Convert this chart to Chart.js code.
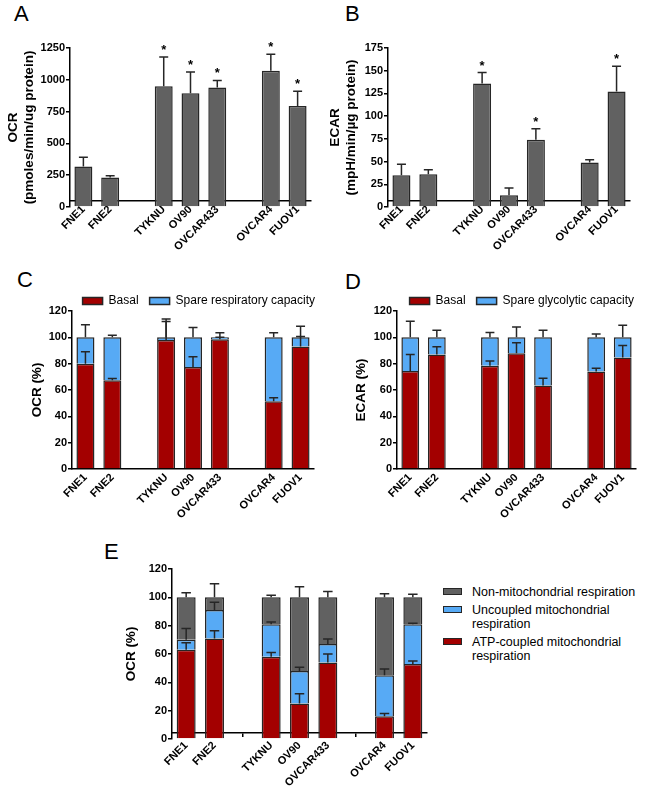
<!DOCTYPE html>
<html>
<head>
<meta charset="utf-8">
<script src="https://cdn.jsdelivr.net/npm/chart.js@4.4.1/dist/chart.umd.min.js"></script>
<style>
  body { margin: 0; background: #fff; }
  #fig { position: relative; width: 650px; height: 809px; font-family: "Liberation Sans", Arial, sans-serif; color: #000; }
  #fig canvas { position: absolute; }
  .tag { position: absolute; font-size: 22px; line-height: 22px; }
  .lrow { position: absolute; left: 443px; width: 200px; font-size: 12.5px; line-height: 14px; }
  .lrow i { position: absolute; left: 0; top: 3px; width: 17px; height: 5px; border: 1.5px solid #262626; }
  .lrow span { position: absolute; left: 29px; width: 170px; }
</style>
</head>
<body>
<div id="fig">
  <div class="tag" style="left:14px;top:3px">A</div>
  <div class="tag" style="left:345px;top:3px">B</div>
  <div class="tag" style="left:17px;top:269px">C</div>
  <div class="tag" style="left:345px;top:271px">D</div>
  <div class="tag" style="left:104px;top:541px">E</div>
  <canvas id="chartA" width="320" height="270" style="left:0;top:0"></canvas>
  <canvas id="chartB" width="330" height="270" style="left:320px;top:0"></canvas>
  <canvas id="chartC" width="320" height="270" style="left:0;top:270px"></canvas>
  <canvas id="chartD" width="330" height="270" style="left:320px;top:270px"></canvas>
  <canvas id="chartE" width="440" height="269" style="left:0;top:540px"></canvas>
  <div id="legendE"></div>
</div>
<script>
// cell lines, empty strings are the gaps between groups
const cells = ['FNE1', 'FNE2', '', 'TYKNU', 'OV90', 'OVCAR433', '', 'OVCAR4', 'FUOV1'];

// A - OCR
const ocrRaw    = [318, 232, null, 950, 895, 940, null, 1072, 795];
const ocrRawErr = [74, 13, null, 230, 167, 55, null, 128, 115];
const ocrRawSig = [0, 0, 0, 1, 1, 1, 0, 1, 1];
// B - ECAR
const ecarRaw    = [35, 36, null, 136, 13, 74, null, 49, 127];
const ecarRawErr = [12, 5, null, 12, 8, 12, null, 3, 28];
const ecarRawSig = [0, 0, 0, 1, 0, 1, 0, 0, 1];
// C - OCR %
const ocrBasal    = [80, 67.5, null, 98, 77.5, 98.5, null, 51.5, 93];
const ocrBasalErr = [9, 1.3, null, 14, 7.7, 1.5, null, 2.7, 7.7];
const ocrSpare    = [20, 32.5, null, 2, 22.5, 1.5, null, 48.5, 7];
const ocrSpareErr = [9.5, 1.5, null, 14, 7.4, 3.4, null, 3.4, 8.4];
// D - ECAR %
const ecarBasal    = [74.5, 87, null, 78.5, 88, 63.5, null, 74, 84.7];
const ecarBasalErr = [12.5, 5.8, null, 3.6, 7.8, 5.4, null, 2.5, 9.1];
const ecarSpare    = [25.5, 13, null, 21.5, 12, 36.5, null, 26, 15.3];
const ecarSpareErr = [12.2, 5.4, null, 3.6, 7.9, 5.4, null, 2.6, 9.2];
// E - OCR % breakdown
const atpCoupled   = [63, 71, null, 58, 25, 54, null, 16, 53];
const atpErr       = [5, 5.5, null, 3, 7, 6, null, 2, 2];
const uncoupled    = [7, 20, null, 23, 23, 13, null, 29, 28];
const uncoupledErr = [8, 5.5, null, 1.6, 2.6, 3.6, null, 4.4, 0.7];
const nonMito      = [30, 9, null, 19, 52, 33, null, 55, 19];
const nonMitoErr   = [3.3, 9.6, null, 1.4, 7.5, 4.2, null, 2.6, 2.1];

const FONT = '"Liberation Sans", Arial, sans-serif';
const RED = '#a30000', BLUE = '#57aaf5', GRAY = '#616161', EDGE = '#262626';

Chart.defaults.font.family = FONT;
Chart.defaults.color = '#000';

// mean + error bar on top of every bar segment, asterisk when flagged
const errorBars = {
  id: 'errorBars',
  afterDatasetsDraw(chart) {
    const ctx = chart.ctx, y = chart.scales.y;
    const sums = [];
    chart.data.datasets.forEach((ds, d) => {
      const meta = chart.getDatasetMeta(d);
      ds.data.forEach((v, i) => {
        if (v == null) return;
        sums[i] = (sums[i] || 0) + v;
        const bar = meta.data[i];
        const top = y.getPixelForValue(sums[i] + ds.err[i]);
        const half = bar.width * 0.25;
        ctx.save();
        ctx.strokeStyle = EDGE;
        ctx.lineWidth = 1.5;
        ctx.beginPath();
        ctx.moveTo(bar.x, bar.y);
        ctx.lineTo(bar.x, top);
        ctx.moveTo(bar.x - half, top);
        ctx.lineTo(bar.x + half, top);
        ctx.stroke();
        if (ds.sig && ds.sig[i]) {
          ctx.fillStyle = '#000';
          ctx.font = 'bold 13px ' + FONT;
          ctx.textAlign = 'center';
          ctx.textBaseline = 'alphabetic';
          ctx.fillText('*', bar.x, top - 3);
        }
        ctx.restore();
      });
    });
  }
};

// legend sits closer to the plot (and a bit further right) than chart.js puts it
const tightLegend = {
  id: 'tightLegend',
  beforeUpdate(chart) {
    const lg = chart.legend;
    if (lg && !lg._tight) {
      const fit = lg.fit;
      lg.fit = function () { fit.call(this); this.height -= 6; };
      lg._tight = true;
    }
  },
  afterLayout(chart, args, opts) {
    if (chart.legend && opts.shift) {
      chart.legend.left += opts.shift;
      chart.legend.right += opts.shift;
    }
  }
};

function panel(id, cfg) {
  const datasets = cfg.series.map(s => ({
    label: s.label,
    data: s.data,
    err: s.err,
    sig: s.sig,
    backgroundColor: s.color,
    borderColor: EDGE,
    borderWidth: 1.5,
    barPercentage: 0.67,
    categoryPercentage: 1
  }));
  return new Chart(document.getElementById(id), {
    type: 'bar',
    data: { labels: cells, datasets: datasets },
    options: {
      responsive: false,
      animation: false,
      layout: { padding: { left: 0, top: cfg.top, right: cfg.right, bottom: 0 } },
      plugins: {
        tooltip: { enabled: false },
        tightLegend: { shift: cfg.legendShift || 0 },
        legend: cfg.legend ? {
          position: 'top',
          align: 'end',
          labels: { boxWidth: 20, boxHeight: 7, padding: 11, color: '#000', font: { size: 12 } }
        } : { display: false }
      },
      scales: {
        x: {
          stacked: true,
          offset: true,
          grid: { display: cfg.xTicks, drawOnChartArea: false, drawTicks: cfg.xTicks, tickLength: 4, color: '#000', lineWidth: 1.5, offset: false },
          border: { display: true, color: '#000', width: 1.5 },
          ticks: { color: '#000', font: { size: 11, weight: 'bold' }, maxRotation: 45, minRotation: 45, autoSkip: false, padding: 2 },
          afterFit: s => { s.height = cfg.xHeight; }
        },
        y: {
          stacked: true,
          min: 0,
          max: cfg.max,
          grid: { drawOnChartArea: false, drawTicks: true, tickLength: 4, color: '#000', lineWidth: 1.5 },
          border: { display: true, color: '#000', width: 1.5 },
          ticks: { stepSize: cfg.step, color: '#000', padding: 1, font: { size: 11, weight: 'bold' }, callback: v => String(v) },
          title: { display: true, text: cfg.title, color: '#000', font: { size: 13.5, weight: 'bold' }, padding: { top: cfg.titlePad, bottom: 0 } },
          afterFit: s => { s.width = cfg.yWidth; }
        }
      }
    },
    plugins: [errorBars, tightLegend]
  });
}

panel('chartA', {
  series: [{ label: 'OCR', data: ocrRaw, err: ocrRawErr, sig: ocrRawSig, color: GRAY }],
  max: 1250, step: 250, title: ['OCR', '(pmoles/min/ug protein)'], titlePad: 5,
  yWidth: 70, xHeight: 63, top: 48, right: 9, xTicks: false, legend: false
});

panel('chartB', {
  series: [{ label: 'ECAR', data: ecarRaw, err: ecarRawErr, sig: ecarRawSig, color: GRAY }],
  max: 175, step: 25, title: ['ECAR', '(mpH/min/\u00b5g protein)'], titlePad: 7,
  yWidth: 68, xHeight: 63, top: 48, right: 20, xTicks: false, legend: false
});

panel('chartC', {
  series: [
    { label: 'Basal', data: ocrBasal, err: ocrBasalErr, color: RED },
    { label: 'Spare respiratory capacity', data: ocrSpare, err: ocrSpareErr, color: BLUE }
  ],
  max: 120, step: 20, title: 'OCR (%)', titlePad: 29,
  yWidth: 72, xHeight: 71, top: 14, right: 6, xTicks: false, legend: true, legendShift: 12
});

panel('chartD', {
  series: [
    { label: 'Basal', data: ecarBasal, err: ecarBasalErr, color: RED },
    { label: 'Spare glycolytic capacity', data: ecarSpare, err: ecarSpareErr, color: BLUE }
  ],
  max: 120, step: 20, title: 'ECAR (%)', titlePad: 33,
  yWidth: 77, xHeight: 71, top: 14, right: 14, xTicks: false, legend: true, legendShift: 9
});

const chartE = panel('chartE', {
  series: [
    { label: 'ATP-coupled mitochondrial respiration', data: atpCoupled, err: atpErr, color: RED },
    { label: 'Uncoupled mitochondrial respiration', data: uncoupled, err: uncoupledErr, color: BLUE },
    { label: 'Non-mitochondrial respiration', data: nonMito, err: nonMitoErr, color: GRAY }
  ],
  max: 120, step: 20, title: 'OCR (%)', titlePad: 123,
  yWidth: 172, xHeight: 70, top: 29, right: 13, xTicks: true, legend: false
});

// legend for E, top series first
const legendTops = [585, 603, 635];
const legendE = document.getElementById('legendE');
chartE.data.datasets.slice().reverse().forEach((ds, k) => {
  const row = document.createElement('div');
  row.className = 'lrow';
  row.style.top = legendTops[k] + 'px';
  row.innerHTML = '<i style="background:' + ds.backgroundColor + '"></i><span>' + ds.label + '</span>';
  legendE.appendChild(row);
});
</script>
</body>
</html>
